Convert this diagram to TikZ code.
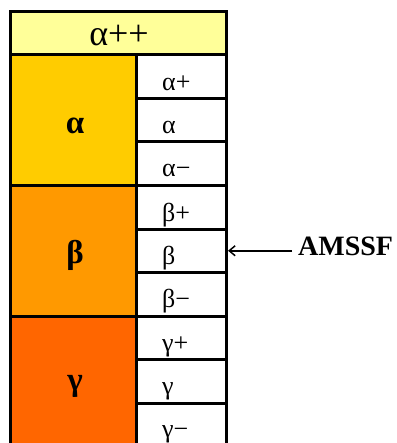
\documentclass[tikz,border=0pt]{standalone}
\usepackage{fontspec}
\setmainfont{Liberation Serif}
\usetikzlibrary{arrows.meta}
\definecolor{hdr}{HTML}{FFFF99}
\definecolor{ca}{HTML}{FFCC00}
\definecolor{cb}{HTML}{FF9900}
\definecolor{cg}{HTML}{FF6600}
\tikzset{
  cell/.style={draw=black, line width=3pt, rectangle, inner sep=0pt, outer sep=0pt, anchor=north west},
  big/.style={cell, minimum width=126pt, minimum height=130.5pt},
  sub/.style={cell, fill=white, minimum width=90pt, minimum height=43.5pt},
  sublabel/.style={anchor=base west, font=\fontsize{26}{28}\selectfont, inner sep=0pt},
  biglabel/.style={font=\bfseries\fontsize{33}{36}\selectfont, inner sep=0pt},
}
\begin{document}
\begin{tikzpicture}[x=1pt,y=-1pt]
\useasboundingbox (0,0) rectangle (396,443);
\clip (0,0) rectangle (396,443);
\fill[white] (0,0) rectangle (396,443);
% header
\node[cell, fill=hdr, minimum width=216pt, minimum height=43pt] (head) at (10,12) {};
\node[font=\fontsize{36}{38}\selectfont, inner sep=0pt, anchor=base] (headt) at (119,46) {α++};
% big blocks
\node[big, fill=ca] (A) at (10,55) {};
\node[big, fill=cb] (B) at (10,185.5) {};
\node[big, fill=cg, minimum height=150pt] (G) at (10,316) {};
\node[biglabel] (At) at (75,126) {α};
\node[biglabel] (Bt) at (75,255) {β};
\node[biglabel] (Gt) at (75,386) {γ};
% sub cells
\node[sub] (a1) at (136,55) {};
\node[sub] (a2) at (136,98.5) {};
\node[sub] (a3) at (136,142) {};
\node[sub] (b1) at (136,185.5) {};
\node[sub] (b2) at (136,229) {};
\node[sub] (b3) at (136,272.5) {};
\node[sub] (g1) at (136,316) {};
\node[sub] (g2) at (136,359.5) {};
\node[sub, minimum height=60pt] (g3) at (136,403) {};
\node[sublabel] (a1t) at (162,91) {α+};
\node[sublabel] (a2t) at (162,134) {α};
\node[sublabel] (a3t) at (162,177) {α−};
\node[sublabel] (b1t) at (162,221) {β+};
\node[sublabel] (b2t) at (162,264) {β};
\node[sublabel] (b3t) at (162,307) {β−};
\node[sublabel] (g1t) at (162,351) {γ+};
\node[sublabel] (g2t) at (162,394) {γ};
\node[sublabel] (g3t) at (162,437) {γ−};
% AMSSF
\node[font=\bfseries\fontsize{28}{30}\selectfont, anchor=base west, inner sep=0pt] (ams) at (298,255) {AMSSF};
\draw[line width=1.5pt, -{Straight Barb[length=6pt,width=10pt]}] ([xshift=-6pt]ams.west |- b2.east) -- ([xshift=2pt]b2.east);
\end{tikzpicture}
\end{document}
